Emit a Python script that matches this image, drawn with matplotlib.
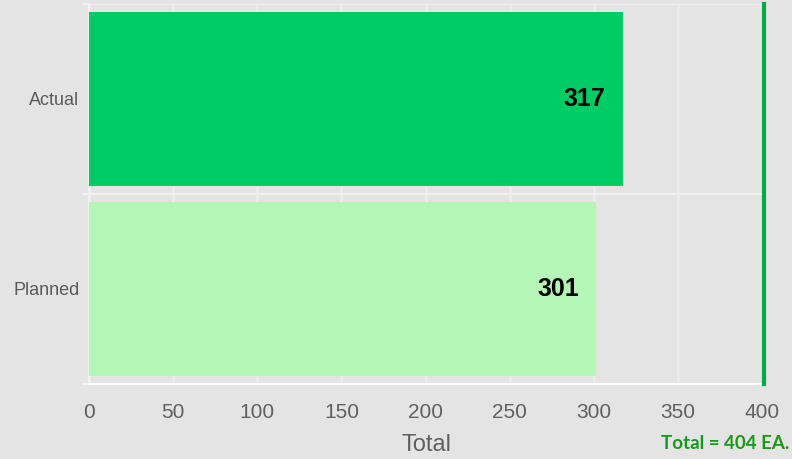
import matplotlib
matplotlib.use("Agg")
import matplotlib.pyplot as plt

categories = ["Planned", "Actual"]
values = [301, 317]
bar_colors = ["#b5f5b5", "#00cc66"]
x_ticks = [0, 50, 100, 150, 200, 250, 300, 350, 400]
total_label = "Total = 404 EA."

plt.rcParams['font.family'] = ['Liberation Sans', 'DejaVu Sans']

fig = plt.figure(figsize=(7.92, 4.59), dpi=100)
fig.patch.set_facecolor("#e4e4e4")
ax = fig.add_axes([0.1124, 0.1634, 0.8522, 0.8279])
ax.set_facecolor("#e4e4e4")

ypos = list(range(len(categories)))
ax.barh(ypos, values, height=0.92, color=bar_colors, zorder=3)

# value labels inside the bar ends
for y, v in zip(ypos, values):
    ax.text(v - 10, y, str(v), ha="right", va="center",
            fontsize=18, fontweight="bold", color="black", zorder=4)

ax.set_xlim(0, 401)
ax.set_ylim(-0.5, 1.5)
ax.set_xticks(x_ticks)
ax.set_xticklabels([str(t) for t in x_ticks])
ax.set_yticks([-0.5, 0.5, 1.5], minor=False)
ax.set_yticklabels([])
ax.set_yticks(ypos, minor=True)
ax.set_yticklabels(categories, minor=True)

ax.grid(axis="x", color="#ececec", linewidth=2, zorder=1)
ax.grid(axis="y", which="major", color="#f2f2f2", linewidth=1.2, zorder=1)

ax.tick_params(axis="x", length=0, labelsize=15, labelcolor="#606060", pad=14)
ax.tick_params(axis="y", which="major", length=5, color="#f4f4f4", width=1.2)
ax.tick_params(axis="y", which="minor", length=0, labelsize=13,
               labelcolor="#5a5a5a", pad=7)

for side in ["top", "right"]:
    ax.spines[side].set_visible(False)
ax.spines["bottom"].set_color("white")
ax.spines["bottom"].set_linewidth(1.5)
ax.spines["left"].set_color("#f4f4f4")
ax.spines["left"].set_linewidth(1.2)

ax.axvline(401, color="#00aa44", linewidth=3, zorder=5, clip_on=False)

ax.set_xlabel("Total", fontsize=17, color="#606060", labelpad=8)

fig.text(0.997, 0.015, total_label, ha="right", va="bottom", fontsize=13.5,
         fontweight="bold", color="#1a9a1a", family=["Lato", "DejaVu Sans"])

fig.savefig("out.png", dpi=100, facecolor=fig.get_facecolor())
